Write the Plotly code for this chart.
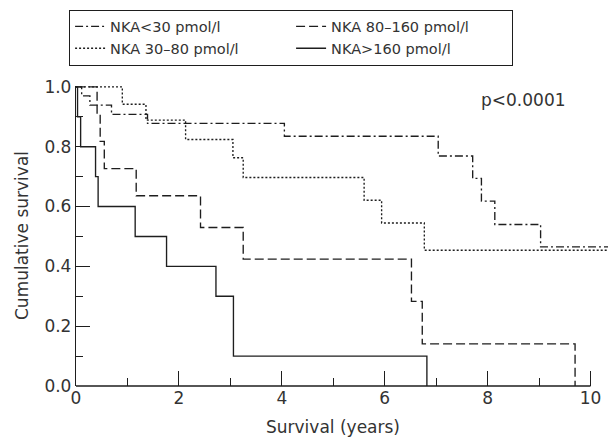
import plotly.graph_objects as go

# Kaplan-Meier step data (time in years, cumulative survival after the step)
names = ["NKA<30 pmol/l", "NKA 80\u2013160 pmol/l", "NKA 30\u201380 pmol/l", "NKA>160 pmol/l"]

t_lt30 = [0, 0.11, 0.27, 0.69, 1.39, 4.05, 7.04, 7.71, 7.88, 8.14, 9.03, 10.6]
s_lt30 = [1.0, 0.970, 0.939, 0.908, 0.878, 0.835, 0.769, 0.694, 0.618, 0.540, 0.465, 0.465]

t_80_160 = [0, 0.41, 0.47, 0.55, 1.17, 2.42, 3.25, 6.52, 6.73, 9.70]
s_80_160 = [1.0, 0.909, 0.818, 0.727, 0.636, 0.530, 0.424, 0.283, 0.141, 0.0]

t_30_80 = [0, 0.90, 1.36, 2.13, 3.05, 3.25, 5.60, 5.94, 6.77, 10.6]
s_30_80 = [1.0, 0.942, 0.889, 0.824, 0.763, 0.697, 0.621, 0.545, 0.454, 0.454]

t_gt160 = [0, 0.03, 0.09, 0.38, 0.43, 1.15, 1.76, 2.72, 3.06, 6.82]
s_gt160 = [1.0, 0.9, 0.8, 0.7, 0.6, 0.5, 0.4, 0.3, 0.1, 0.0]

x_ticks = [0, 2, 4, 6, 8, 10]
y_ticks = [0.0, 0.2, 0.4, 0.6, 0.8, 1.0]
y_tick_text = ["0.0", "0.2", "0.4", "0.6", "0.8", "1.0"]

FONT = "DejaVu Sans"
INK = "#1e1e1e"

series = [
    (names[0], t_lt30, s_lt30, "8px,3px,2px,3px"),
    (names[1], t_80_160, s_80_160, "9px,4px"),
    (names[2], t_30_80, s_30_80, "2px,2px"),
    (names[3], t_gt160, s_gt160, "solid"),
]

fig = go.Figure()
for name, t, s, dash in series:
    fig.add_trace(go.Scatter(
        x=t, y=s, mode="lines", name=name,
        line=dict(shape="hv", color=INK, width=1.35, dash=dash),
    ))

fig.update_layout(
    width=608, height=444,
    margin=dict(l=76, r=0, t=86, b=58),
    paper_bgcolor="white", plot_bgcolor="white",
    font=dict(family=FONT, color="#333333", size=17),
    showlegend=True,
    legend=dict(
        orientation="h", x=-0.013, y=1.255, xanchor="left", yanchor="top",
        bordercolor=INK, borderwidth=1, bgcolor="rgba(0,0,0,0)",
        font=dict(family=FONT, size=14.5, color="#333333"),
        entrywidth=176, entrywidthmode="pixels", traceorder="normal",
    ),
    xaxis=dict(
        range=[0, 10.34], showgrid=False, zeroline=False, showline=False,
        tickvals=x_ticks, ticktext=[str(v) for v in x_ticks],
        ticks="inside", ticklen=15, tickwidth=1.3, tickcolor=INK,
        minor=dict(dtick=1, tick0=0, ticks="inside", ticklen=8, tickwidth=1.3, tickcolor=INK),
        tickfont=dict(size=17, family=FONT),
    ),
    yaxis=dict(
        range=[0, 1.003], showgrid=False, zeroline=False, showline=True,
        linecolor=INK, linewidth=1.3,
        tickvals=y_ticks, ticktext=y_tick_text,
        ticks="inside", ticklen=14, tickwidth=1.3, tickcolor=INK,
        minor=dict(dtick=0.1, tick0=0, ticks="inside", ticklen=7, tickwidth=1.3, tickcolor=INK),
        tickfont=dict(size=17, family=FONT),
    ),
    shapes=[dict(type="line", xref="x", yref="paper", x0=0, x1=10, y0=0, y1=0,
                 line=dict(color=INK, width=1.3))],
    annotations=[
        dict(text="Survival (years)", xref="x", yref="paper", x=5, y=-0.137,
             xanchor="center", yanchor="middle", showarrow=False,
             font=dict(size=17, family=FONT)),
        dict(text="Cumulative survival", xref="paper", yref="paper", x=-0.1015, y=0.5,
             xanchor="center", yanchor="middle", textangle=-90, showarrow=False,
             font=dict(size=17, family=FONT)),
        dict(text="p<0.0001", xref="paper", yref="paper", x=0.842, y=0.9527,
             xanchor="center", yanchor="middle", showarrow=False,
             font=dict(size=17, family=FONT)),
    ],
)

fig.write_html("out.html")
